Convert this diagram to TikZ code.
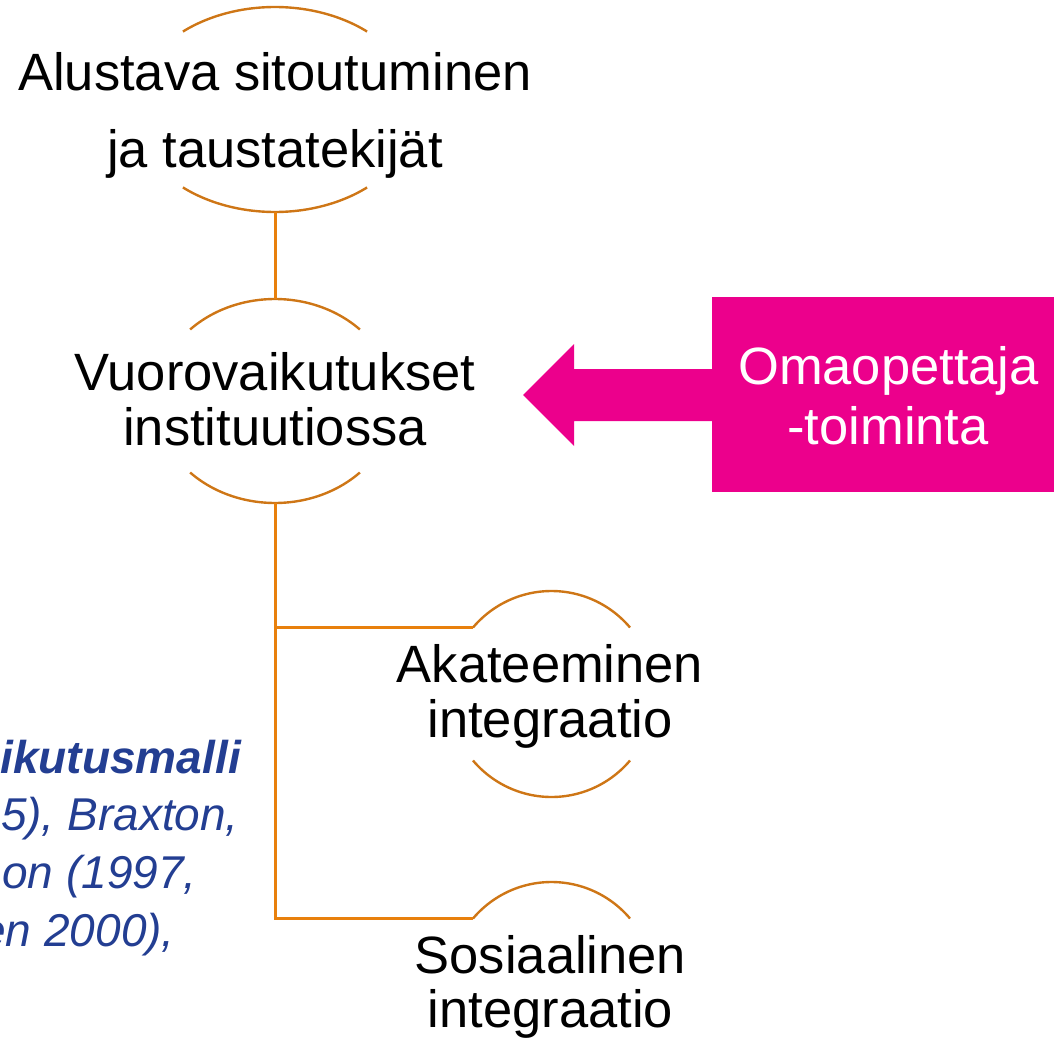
\documentclass[tikz,border=0pt]{standalone}
\usepackage{fontspec}
\setmainfont{Liberation Sans}
\definecolor{linec}{RGB}{232,128,12}
\definecolor{arcc}{RGB}{206,118,22}
\definecolor{pinkc}{RGB}{236,0,140}
\definecolor{blueT}{RGB}{35,62,146}
\tikzset{
  lbl/.style={font=\fontsize{52.5}{55}\selectfont, inner sep=0pt, anchor=base},
  wlbl/.style={lbl, text=white},
  blu/.style={font=\fontsize{46}{57}\selectfont\itshape, text=blueT, inner sep=0pt, anchor=base east},
  arcst/.style={draw=arcc, line width=2.4pt},
  conn/.style={draw=linec, line width=3pt},
}
\begin{document}
\begin{tikzpicture}[x=1pt,y=-1pt]
\useasboundingbox (0,0) rectangle (1054,1041);
\clip (0,0) rectangle (1054,1041);

% arcs around node texts
\draw[arcst] plot[domain=229.5:310.5,samples=60] ({275+141.8*cos(\x)},{109.5+102.5*sin(\x)});
\draw[arcst] plot[domain=49.5:130.5,samples=60] ({275+141.8*cos(\x)},{109.5+102.5*sin(\x)});
\draw[arcst] plot[domain=224.5:315.5,samples=60] ({275+119*cos(\x)},{401+102*sin(\x)});
\draw[arcst] plot[domain=44.5:135.5,samples=60] ({275+119*cos(\x)},{401+102*sin(\x)});
\draw[arcst] plot[domain=220.2:319.8,samples=60] ({551.5+102.8*cos(\x)},{694+103*sin(\x)});
\draw[arcst] plot[domain=40.2:139.8,samples=60] ({551.5+102.8*cos(\x)},{694+103*sin(\x)});
\draw[arcst] plot[domain=220.2:319.8,samples=60] ({551.5+102.8*cos(\x)},{985+103*sin(\x)});

% connector points
\coordinate (c1b) at (275,212);
\coordinate (c2t) at (275,299);
\coordinate (c2b) at (275,503);
\coordinate (j1) at (275,627.5);
\coordinate (j2) at (275,918.5);
\coordinate (c3l) at (473,627.5);
\coordinate (c4l) at (473,918.5);

\draw[conn] (c1b) -- (c2t);
\draw[conn] (c2b) -- (j2) -- (c4l);
\draw[conn] (j1) -- (c3l);

% texts
\node[lbl] (n1a) at (275,90.5) {Alustava sitoutuminen};
\node[lbl] (n1b) at (275,167) {ja taustatekijät};
\node[lbl] (n2a) at (275,390) {Vuorovaikutukset};
\node[lbl] (n2b) at (275,445) {instituutiossa};
\node[lbl] (n3a) at (550,682) {Akateeminen};
\node[lbl] (n3b) at (550,737) {integraatio};
\node[lbl] (n4a) at (550.5,973) {Sosiaalinen};
\node[lbl] (n4b) at (550.5,1027) {integraatio};

% pink box and arrow
\node[fill=pinkc, minimum width=400pt, minimum height=195pt, anchor=north west, inner sep=0pt] (omao) at (712,297) {};
\fill[pinkc] (713,369) -- (574,369) -- (574,344) -- (523,395) -- (574,446) -- (574,421) -- (713,421) -- cycle;
\node[wlbl] (o1) at (888.5,384) {Omaopettaja};
\node[wlbl] (o2) at (888,444) {-toiminta};

% blue reference text (visible parts, cut at the left edge as in the reference)
\node[blu, font=\fontsize{46}{57}\selectfont\bfseries\itshape] (b1) at (241,773) {ikutusmalli};
\node[blu] (b2) at (239,830) {5), Braxton,};
\node[blu] (b3) at (197,888) {on (1997,};
\node[blu] (b4) at (175,946) {en 2000),};
\end{tikzpicture}
\end{document}
